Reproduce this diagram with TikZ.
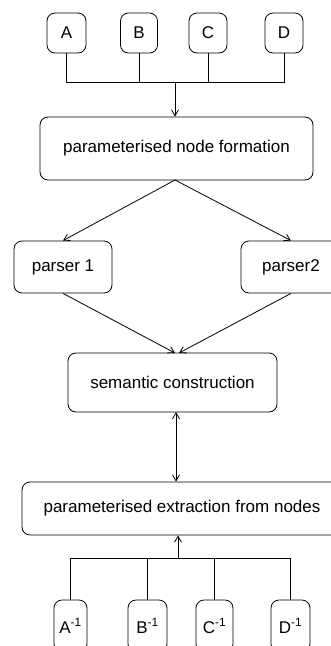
\documentclass[tikz,border=0pt]{standalone}
\usepackage{fontspec}
\setmainfont{Liberation Sans}
\usetikzlibrary{arrows.meta}
\begin{document}
\begin{tikzpicture}[x=1pt,y=-1pt,
  box/.style={draw,rounded corners=8pt,line width=0.8pt,inner sep=0pt,font=\fontsize{17}{19}\selectfont},
  conn/.style={line width=0.8pt},
  arr/.style={conn,-{Straight Barb[length=6pt,width=7pt]}},
  darr/.style={conn,{Straight Barb[length=6pt,width=7pt]}-{Straight Barb[length=6pt,width=7pt]}}]
\useasboundingbox (0,0) rectangle (330,646);
% top nodes
\node[box,minimum width=39pt,minimum height=40pt] (A) at (66.5,33) {A};
\node[box,minimum width=37pt,minimum height=40pt] (B) at (139,33) {B};
\node[box,minimum width=38pt,minimum height=40pt] (C) at (208,33) {C};
\node[box,minimum width=38pt,minimum height=40pt] (D) at (284,33) {D};
\node[box,minimum width=273pt,minimum height=63pt] (form) at (176.5,148.5) {parameterised node formation};
\node[box,minimum width=98pt,minimum height=52pt] (p1) at (63,267) {parser 1};
\node[box,minimum width=100pt,minimum height=52pt] (p2) at (291,267) {parser2};
\node[box,minimum width=209pt,minimum height=59pt] (sem) at (172.5,382.5) {semantic construction};
\node[box,minimum width=320pt,minimum height=53pt] (ext) at (182,508.5) {parameterised extraction from nodes};
\node[box,minimum width=33pt,minimum height=52pt] (Ai) at (70.5,626) {A\textsuperscript{-1}};
\node[box,minimum width=39pt,minimum height=52pt] (Bi) at (147.5,626) {B\textsuperscript{-1}};
\node[box,minimum width=37pt,minimum height=52pt] (Ci) at (214.5,626) {C\textsuperscript{-1}};
\node[box,minimum width=39pt,minimum height=52pt] (Di) at (290.5,626) {D\textsuperscript{-1}};
% top connectors
\coordinate (J1) at (175,82);
\draw[conn] (A.south) -- (A.south |- J1) -- (D.south |- J1) -- (D.south);
\draw[conn] (B.south) -- (B.south |- J1);
\draw[conn] (C.south) -- (C.south |- J1);
\draw[arr] (J1) -- (J1 |- form.north);
% to parsers
\coordinate (F1) at (175,180);
\draw[arr] (F1) -- (p1.north);
\draw[arr] (F1) -- (p2.north);
% to semantic
\coordinate (S1) at (175,353);
\coordinate (S2) at (179,353);
\draw[arr] (p1.south) -- (S1);
\draw[arr] (p2.south) -- (S2);
% double arrow
\coordinate (S3) at (176,412);
\draw[darr] (S3) -- (S3 |- ext.north);
% bottom connectors
\coordinate (J2) at (178,558);
\draw[conn] (Ai.north) -- (Ai.north |- J2) -- (Di.north |- J2) -- (Di.north);
\draw[conn] (Bi.north) -- (Bi.north |- J2);
\draw[conn] (Ci.north) -- (Ci.north |- J2);
\draw[arr] (J2) -- (J2 |- ext.south);
\end{tikzpicture}
\end{document}
